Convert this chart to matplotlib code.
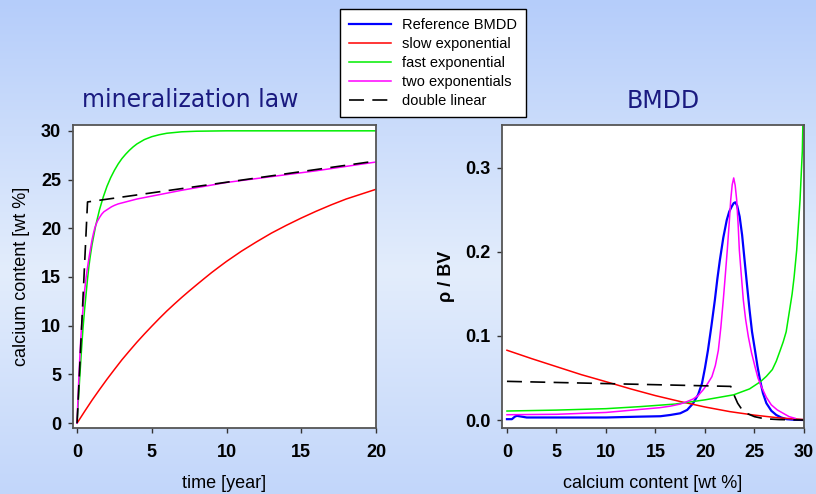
import numpy as np
import matplotlib
matplotlib.use("Agg")
import matplotlib.pyplot as plt
from matplotlib.colors import LinearSegmentedColormap

# ---- mineralization law (time [year] -> calcium content [wt %]) ----
t_slow = [0, 0.5, 1, 1.5, 2, 2.5, 3, 3.5, 4, 4.5, 5, 5.5, 6, 6.5, 7, 7.5, 8, 8.5,
          9, 9.5, 10, 11, 12, 13, 14, 15, 16, 17, 18, 19, 20]
ca_slow = [0, 1.19, 2.35, 3.44, 4.5, 5.51, 6.5, 7.41, 8.3, 9.14, 9.95, 10.74,
           11.5, 12.21, 12.9, 13.56, 14.2, 14.83, 15.45, 16.03, 16.6, 17.65,
           18.6, 19.5, 20.3, 21.05, 21.75, 22.4, 23.0, 23.5, 24.0]

t_fast = [0, 0.1, 0.2, 0.3, 0.4, 0.5, 0.6, 0.7, 0.8, 0.9, 1.0, 1.25, 1.5, 1.75,
          2.0, 2.25, 2.5, 2.75, 3.0, 3.25, 3.5, 3.75, 4.0, 4.5, 5, 5.5, 6, 7, 8,
          10, 15, 20]
ca_fast = [0, 2.7, 5.2, 7.6, 9.8, 11.6, 13.2, 14.8, 16.2, 17.3, 18.3, 20.3, 21.9,
           23.2, 24.3, 25.2, 25.95, 26.6, 27.15, 27.6, 28.0, 28.35, 28.65, 29.1,
           29.4, 29.6, 29.75, 29.9, 29.96, 30, 30, 30]

t_two = [0, 0.05, 0.1, 0.15, 0.2, 0.25, 0.3, 0.35, 0.4, 0.45, 0.5, 0.6, 0.7, 0.8,
         0.9, 1.0, 1.1, 1.2, 1.35, 1.5, 1.65, 1.8, 1.95, 2.1, 2.3, 2.5, 2.75, 3,
         3.5, 4, 5, 7, 10, 13, 16, 20]
ca_two = [0, 2.1, 4.0, 5.7, 7.3, 8.7, 9.9, 10.9, 11.8, 12.7, 13.5, 14.9, 16.0,
          17.0, 17.9, 18.8, 19.5, 20.1, 20.7, 21.1, 21.45, 21.7, 21.85, 22.0,
          22.2, 22.35, 22.5, 22.6, 22.8, 23.0, 23.3, 23.9, 24.7, 25.3, 25.9, 26.8]

t_dlin = [0, 0.7, 20]
ca_dlin = [0, 22.7, 26.9]

# ---- BMDD (calcium content [wt %] -> rho / BV) ----
c_ref = [0, 0.5, 0.8, 1.0, 1.5, 2, 5, 10, 13.4, 15.5, 16.5, 17.5, 18.2, 18.8, 19.3,
         19.7, 20.0, 20.3, 20.65, 21.0, 21.25, 21.5, 21.85, 22.2, 22.45, 22.7, 22.9,
         23.06, 23.25, 23.5, 23.75, 24.0, 24.25, 24.5, 24.75, 25.05, 25.3, 25.55,
         25.85, 26.2, 26.7, 27.2, 27.7, 28.25, 29, 30]
rho_ref = [0.001, 0.001, 0.004, 0.005, 0.004, 0.003, 0.003, 0.003, 0.004, 0.0045,
           0.006, 0.008, 0.012, 0.0198, 0.030, 0.0437, 0.062, 0.083, 0.112, 0.143,
           0.168, 0.19, 0.217, 0.238, 0.248, 0.254, 0.258, 0.259, 0.255, 0.242,
           0.22, 0.19, 0.16, 0.131, 0.105, 0.083, 0.064, 0.048, 0.032, 0.020,
           0.011, 0.006, 0.003, 0.001, 0.0003, 0]

c_slow = [0, 2.5, 5, 7.5, 10, 12.5, 15, 17.5, 20, 22.5, 25, 27.5, 30]
rho_slow = [0.083, 0.073, 0.0635, 0.054, 0.0456, 0.037, 0.029, 0.022, 0.0155,
            0.010, 0.0058, 0.0025, 0.0005]

c_fast = [0, 5, 10, 13.4, 17, 20, 22.9, 24.5, 25.6, 26.2, 26.8, 27.2, 27.6, 27.9,
          28.2, 28.4, 28.6, 28.8, 29.0, 29.26, 29.45, 29.6, 29.75, 29.83, 29.9]
rho_fast = [0.0107, 0.0118, 0.0135, 0.0159, 0.019, 0.024, 0.030, 0.037, 0.0456,
            0.052, 0.060, 0.07, 0.083, 0.093, 0.105, 0.12, 0.135, 0.15, 0.170,
            0.202, 0.235, 0.262, 0.30, 0.32, 0.36]

c_two = [0, 5, 10, 15.45, 16.5, 17.5, 18.2, 18.8, 19.3, 19.8, 20.25, 20.7, 21.05,
         21.35, 21.6, 21.85, 22.05, 22.25, 22.45, 22.6, 22.75, 22.9, 23.05, 23.2,
         23.35, 23.47, 23.67, 23.87, 24.1, 24.38, 24.7, 25.05, 25.35, 25.7, 26.2,
         26.7, 27.3, 27.9, 28.5, 29.1]
rho_two = [0.0063, 0.0068, 0.009, 0.0147, 0.0165, 0.019, 0.022, 0.025, 0.029,
           0.0357, 0.043, 0.0516, 0.065, 0.083, 0.11, 0.143, 0.172, 0.202, 0.235,
           0.262, 0.28, 0.288, 0.279, 0.262, 0.232, 0.202, 0.172, 0.143, 0.12,
           0.099, 0.08, 0.0635, 0.05, 0.0397, 0.027, 0.018, 0.012, 0.008, 0.004,
           0.002]

c_dlin = [0, 22.6, 22.8, 23.0, 23.3, 23.7, 24.2, 25.0, 26.0, 27.5, 30]
rho_dlin = [0.046, 0.040, 0.034, 0.028, 0.020, 0.013, 0.008, 0.004, 0.0015, 0.0005, 0.0]

labels = ["Reference BMDD", "slow exponential", "fast exponential",
          "two exponentials", "double linear"]

plt.rcParams['font.family'] = ['Liberation Sans', 'DejaVu Sans']

fig = plt.figure(figsize=(8.16, 4.94), dpi=100)

# slide background
bg = fig.add_axes([0, 0, 1, 1], zorder=-10)
cmap = LinearSegmentedColormap.from_list(
    "bg", [(0, "#b5cdfa"), (0.55, "#e3edfc"), (1, "#c2d6fa")])
yy = np.linspace(0, 1, 256).reshape(-1, 1)
bg.imshow(yy, aspect="auto", cmap=cmap, extent=[0, 1, 0, 1])
bg.axis("off")

ax1 = fig.add_axes([0.0895, 0.1336, 0.3713, 0.6134])
ax2 = fig.add_axes([0.6152, 0.1336, 0.3701, 0.6134])

lw = 1.1
ax1.plot(t_slow, ca_slow, color="#ff0000", lw=lw)
ax1.plot(t_fast, ca_fast, color="#00ee00", lw=lw)
ax1.plot(t_two, ca_two, color="#ff00ff", lw=lw)
ax1.plot(t_dlin, ca_dlin, color="black", lw=1.2, dashes=(9, 5))

h_ref, = ax2.plot(c_ref, rho_ref, color="#0000ff", lw=1.6)
h_slow, = ax2.plot(c_slow, rho_slow, color="#ff0000", lw=lw)
h_fast, = ax2.plot(c_fast, rho_fast, color="#00ee00", lw=lw)
h_two, = ax2.plot(c_two, rho_two, color="#ff00ff", lw=lw)
h_dlin, = ax2.plot(c_dlin, rho_dlin, color="black", lw=1.2, dashes=(9, 5))

ax1.set_xlim(-0.27, 20)
ax1.set_ylim(-0.5, 30.6)
ax1.set_xticks([0, 5, 10, 15, 20])
ax1.set_yticks([0, 5, 10, 15, 20, 25, 30])
ax2.set_xlim(-0.5, 30)
ax2.set_ylim(-0.0095, 0.351)
ax2.set_xticks([0, 5, 10, 15, 20, 25, 30])
ax2.set_yticks([0.0, 0.1, 0.2, 0.3])
ax2.set_yticklabels(["0.0", "0.1", "0.2", "0.3"])

for ax in (ax1, ax2):
    ax.set_facecolor("white")
    for s in ax.spines.values():
        s.set_color("#555555")
        s.set_linewidth(1.3)
    ax.tick_params(direction="out", length=3.5, width=1, color="#333333",
                   labelsize=13)
    ax.tick_params(axis="x", pad=8)
    ax.tick_params(axis="y", pad=5)
    for lab in ax.get_xticklabels() + ax.get_yticklabels():
        lab.set_fontweight("bold")

ax1.set_xlabel("time [year]", fontsize=13, labelpad=10)
ax1.set_ylabel("calcium content [wt %]", fontsize=13, labelpad=8)
ax2.set_xlabel("calcium content [wt %]", fontsize=13, labelpad=10)
ax2.set_ylabel("ρ / BV", fontsize=13, fontweight="bold", labelpad=7)

fig.text(190 / 816, 1 - 100 / 494, "mineralization law", fontsize=17,
         color="#1a1a80", family="DejaVu Sans", ha="center", va="center")
fig.text(663 / 816, 1 - 101 / 494, "BMDD", fontsize=17,
         color="#1a1a80", family="DejaVu Sans", ha="center", va="center")

leg = fig.legend([h_ref, h_slow, h_fast, h_two, h_dlin], labels,
                 loc="upper left", bbox_to_anchor=(340 / 816, 1 - 9 / 494),
                 fontsize=10.5, frameon=True, fancybox=False, framealpha=1,
                 edgecolor="black", handlelength=2.9, handletextpad=0.7,
                 labelspacing=0.34, borderpad=0.62, borderaxespad=0)
leg.get_frame().set_linewidth(1.0)

fig.savefig("out.png", dpi=100)
